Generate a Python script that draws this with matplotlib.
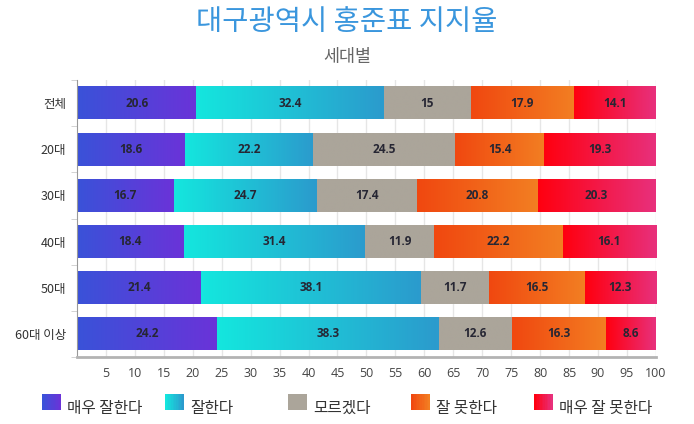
import numpy as np
import matplotlib
matplotlib.use("Agg")
import matplotlib.pyplot as plt
from matplotlib.patches import Rectangle
from matplotlib.legend_handler import HandlerBase
from matplotlib.colors import LinearSegmentedColormap

plt.rcParams['font.family'] = ['Noto Sans CJK KR', 'DejaVu Sans']

# data
groups = ['전체', '20대', '30대', '40대', '50대', '60대 이상']
series = ['매우 잘한다', '잘한다', '모르겠다', '잘 못한다', '매우 잘 못한다']
very_good = [20.6, 18.6, 16.7, 18.4, 21.4, 24.2]
good = [32.4, 22.2, 24.7, 31.4, 38.1, 38.3]
unknown = [15, 24.5, 17.4, 11.9, 11.7, 12.6]
bad = [17.9, 15.4, 20.8, 22.2, 16.5, 16.3]
very_bad = [14.1, 19.3, 20.3, 16.1, 12.3, 8.6]
values = [very_good, good, unknown, bad, very_bad]

# gradient (left colour, right colour) per series
grads = [('#3a52d9', '#6a33d8'),
         ('#14e6de', '#2b9bcd'),
         ('#aba59a', '#aba59a'),
         ('#f04810', '#f37e22'),
         ('#ff0010', '#e8307c')]

fig = plt.figure(figsize=(6.94, 4.24), dpi=100)
ax = fig.add_axes([0.111, 0.158, 0.834, 0.653])

bar_h = 0.7
for i, g in enumerate(groups):
    left = 0
    for s, vals in enumerate(values):
        w = vals[i]
        cmap = LinearSegmentedColormap.from_list('g', grads[s])
        grad = np.linspace(0, 1, 64).reshape(1, -1)
        ax.imshow(grad, cmap=cmap, aspect='auto', interpolation='bilinear',
                  extent=[left, left + w, i + bar_h / 2, i - bar_h / 2], zorder=2)
        ax.text(left + w / 2, i, f'{w:g}', ha='center', va='center',
                fontsize=8.5, fontweight='bold', color='#262633',
                family=['Open Sans', 'DejaVu Sans'], zorder=3)
        left += w

ax.set_xlim(0, 100)
ax.set_ylim(5.5, -0.5)
ax.set_xticks(np.arange(5, 101, 5))
ax.set_yticks(range(len(groups)))
ax.set_yticklabels(groups)
ax.set_yticks(np.arange(-0.5, 6, 1), minor=True)
ax.tick_params(axis='y', which='major', length=0, pad=8, labelsize=9, labelcolor='#333333')
ax.tick_params(axis='y', which='minor', length=4, color='#cccccc', direction='out')
ax.tick_params(axis='x', length=0, pad=7, labelsize=9, labelcolor='#444444')
for lab in ax.get_xticklabels():
    lab.set_family(['Open Sans', 'DejaVu Sans'])
ax.grid(axis='x', color='#e6e6e6', linewidth=1, zorder=0)
ax.set_axisbelow(True)
for sp in ['top', 'right']:
    ax.spines[sp].set_visible(False)
ax.spines['left'].set_color('#999999')
ax.spines['bottom'].set_color('#b3b3b3')
ax.spines['bottom'].set_linewidth(2)

fig.text(0.5, 0.948, '대구광역시 홍준표 지지율', ha='center', va='center',
         fontsize=20.5, color='#3a96dd')
fig.text(0.5, 0.866, '세대별', ha='center', va='center', fontsize=12.5, color='#666666')


class GradHandler(HandlerBase):
    def __init__(self, cols):
        super().__init__()
        self.cols = cols

    def create_artists(self, legend, orig, xd, yd, width, height, fontsize, trans):
        cmap = LinearSegmentedColormap.from_list('g', self.cols)
        n = 12
        arts = []
        for k in range(n):
            r = Rectangle((xd + width * k / n, yd), width / n + 0.3, height,
                          facecolor=cmap(k / (n - 1)), edgecolor='none', transform=trans)
            arts.append(r)
        return arts


# one legend per entry, evenly spaced like the original
for s, name in enumerate(series):
    h = Rectangle((0, 0), 1, 1)
    leg = fig.legend([h], [name], handler_map={h: GradHandler(grads[s])},
                     loc='center left', bbox_to_anchor=((42 + 123 * s) / 694, 0.037),
                     frameon=False, fontsize=11.3, borderpad=0, borderaxespad=0,
                     handlelength=1.2, handleheight=1.2, handletextpad=0.4)
    for t in leg.get_texts():
        t.set_color('#333333')

fig.savefig('out.png', dpi=100)
